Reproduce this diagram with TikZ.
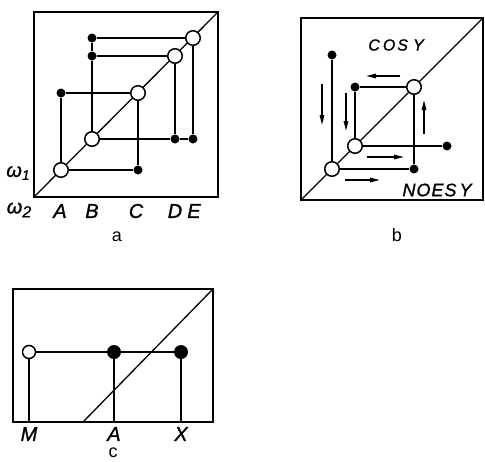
\documentclass[tikz,border=0pt]{standalone}
\usepackage{fontspec}
\setmainfont{Liberation Sans}
\newfontfamily\labfont{Liberation Sans}[FakeBold=1.2]
\usetikzlibrary{arrows.meta}
\begin{document}
\begin{tikzpicture}[x=1pt,y=-1pt,
  frame/.style={line width=2pt},
  ln/.style={line width=1.3pt},
  peak/.style={circle,draw,line width=1.5pt,fill=white,minimum size=14.5pt,inner sep=0pt},
  cross/.style={circle,fill=black,minimum size=9pt,inner sep=0pt},
  bigdot/.style={circle,fill=black,minimum size=14pt,inner sep=0pt},
  lab/.style={font=\labfont\fontsize{20}{20}\selectfont\itshape},
  panellab/.style={font=\fontsize{18}{18}\selectfont},
  arr/.style={line width=1.3pt,-{Triangle[length=10pt,width=4.5pt]}}]
\useasboundingbox (0,0) rectangle (485,461);

% ---------- panel a ----------
\coordinate (aSW) at (34,197);
\coordinate (aNE) at (218,12);
\draw[frame] (aSW) rectangle (aNE);
\draw[ln] (aSW) -- (aNE);
\node[peak] (A) at (61,170) {};
\node[peak] (B) at (92,139) {};
\node[peak] (C) at (138,93) {};
\node[peak] (D) at (175,56) {};
\node[peak] (E) at (193,38) {};
\node[cross] (BE) at (92,38) {};
\node[cross] (BD) at (92,56) {};
\node[cross] (AC) at (61,93) {};
\node[cross] (CA) at (138,170) {};
\node[cross] (DB) at (175,139) {};
\node[cross] (EB) at (193,139) {};
\draw[ln] (E) -- (BE) -- (BD) -- (B);
\draw[ln] (D) -- (BD);
\draw[ln] (A) -- (AC) -- (C);
\draw[ln] (C) -- (CA) -- (A);
\draw[ln] (B) -- (DB) -- (EB) -- (E);
\draw[ln] (D) -- (DB);
\node[lab] (w1) at (18,173) {ω\raisebox{-3pt}{\fontsize{14}{14}\selectfont 1}};
\node[lab] (w2) at (19,210) {ω\raisebox{-4pt}{\fontsize{16}{16}\selectfont 2}};
\node[lab] (lA) at (60,211) {A};
\node[lab] (lB) at (92,211) {B};
\node[lab] (lC) at (136,211) {C};
\node[lab] (lD) at (175,211) {D};
\node[lab] (lE) at (194,211) {E};
\node[panellab] (capa) at (117,237) {a};

% ---------- panel b ----------
\coordinate (bSW) at (301,200);
\coordinate (bNE) at (483,18);
\draw[frame] (bSW) rectangle (bNE);
\draw[ln] (bSW) -- (bNE);
\node[peak] (P1) at (332,169) {};
\node[peak] (P2) at (355,146) {};
\node[peak] (P3) at (414,87) {};
\node[cross] (Q1) at (332,55) {};
\node[cross] (Q2) at (355,87) {};
\node[cross] (Q3) at (447,146) {};
\node[cross] (Q4) at (414,169) {};
\draw[ln] (P1) -- (Q1);
\draw[ln] (P1) -- (Q4) -- (P3);
\draw[ln] (P3) -- (Q2) -- (P2);
\draw[ln] (P2) -- (Q3);
\coordinate (a1s) at (322,84);  \coordinate (a1e) at (322,125);
\coordinate (a2s) at (346,93);  \coordinate (a2e) at (346,131);
\coordinate (a3s) at (400,76);  \coordinate (a3e) at (366,76);
\coordinate (a4s) at (424,134); \coordinate (a4e) at (424,100);
\coordinate (a5s) at (367,157); \coordinate (a5e) at (404,157);
\coordinate (a6s) at (345,180); \coordinate (a6e) at (380,180);
\draw[arr] (a1s) -- (a1e);
\draw[arr] (a2s) -- (a2e);
\draw[arr] (a3s) -- (a3e);
\draw[arr] (a4s) -- (a4e);
\draw[arr] (a5s) -- (a5e);
\draw[arr] (a6s) -- (a6e);
\node[font=\labfont\fontsize{16}{16}\selectfont\itshape] (cosy) at (396,45) {C\hspace{3pt}O\hspace{2pt}S\hspace{5pt}Y};
\node[font=\labfont\fontsize{18}{18}\selectfont\itshape] (noesy) at (437,190) {N\hspace{1pt}O\hspace{1pt}E\hspace{1pt}S\hspace{3pt}Y};
\node[panellab] (capb) at (397,235) {b};

% ---------- panel c ----------
\coordinate (cSW) at (13,422);
\coordinate (cNE) at (213,289);
\draw[frame] (cSW) rectangle (cNE);
\coordinate (cd) at (83,422);
\draw[ln] (cd) -- (cNE);
\node[peak,minimum size=13pt] (M) at (29,352) {};
\node[bigdot] (cA) at (114,352) {};
\node[bigdot] (cX) at (181,352) {};
\coordinate (Mb) at (29,422);
\coordinate (Ab) at (114,422);
\coordinate (Xb) at (181,422);
\draw[ln] (M) -- (cA) -- (cX);
\draw[ln] (M) -- (Mb);
\draw[ln] (cA) -- (Ab);
\draw[ln] (cX) -- (Xb);
\node[lab] (lM) at (29,434) {M};
\node[lab] (lA2) at (114,434) {A};
\node[lab] (lX) at (181,434) {X};
\node[panellab,inner sep=1pt] (capc) at (113,453) {c};
\end{tikzpicture}
\end{document}
